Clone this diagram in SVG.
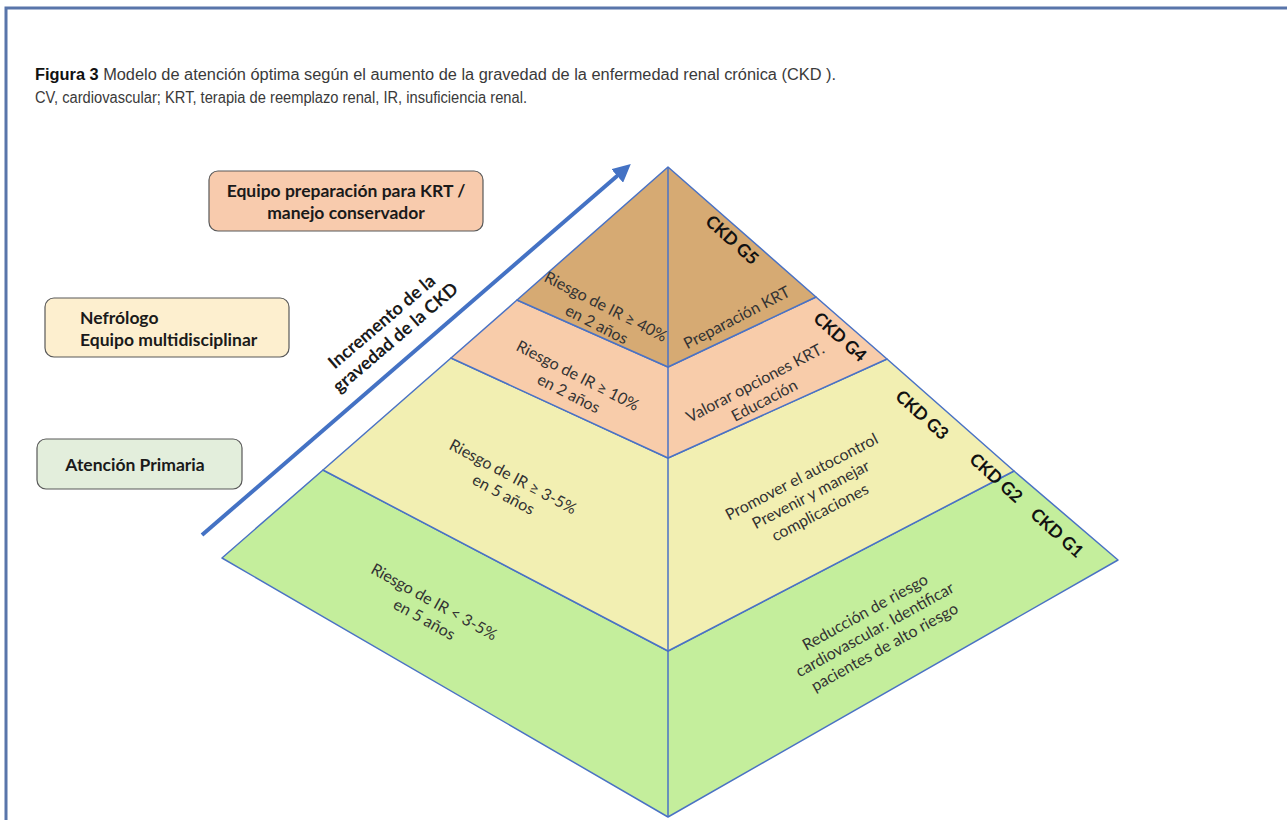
<svg xmlns="http://www.w3.org/2000/svg" width="1287" height="820" viewBox="0 0 1287 820">
<defs>
<style>
.title{font-family:"Liberation Sans",Arial,sans-serif;font-size:16px;fill:#3a3a3a}
.box{stroke:#595959;stroke-width:1.2}
.btxt{font-family:Lato,"Open Sans",sans-serif;font-weight:bold;font-size:17.5px;fill:#1a1a1a}
.lvl{stroke:#4a72c4;stroke-width:1.5;stroke-linejoin:round}
.in{font-family:Lato,"Open Sans",sans-serif;font-size:16px;fill:#333;text-anchor:middle}
.ckd{font-family:Lato,"Open Sans",sans-serif;font-weight:bold;font-size:17.5px;fill:#111;text-anchor:middle}
.arr{font-family:Lato,"Open Sans",sans-serif;font-weight:bold;font-size:18px;fill:#1a1a1a;text-anchor:middle}
</style>
<marker id="ah" viewBox="0 0 10 10" refX="5" refY="5" markerWidth="4.5" markerHeight="4.5" orient="auto" markerUnits="strokeWidth">
<path d="M0,0 L10,5 L0,10 z" fill="#4472c4"/>
</marker>
</defs>
<rect width="1287" height="820" fill="#fff"/>
<path d="M6,820 L6,8 L1287,8" fill="none" stroke="#5975aa" stroke-width="3"/>

<g id="title">
<text class="title" x="35" y="80" textLength="801" lengthAdjust="spacingAndGlyphs"><tspan font-weight="bold" fill="#111">Figura 3</tspan> Modelo de atención óptima según el aumento de la gravedad de la enfermedad renal crónica (CKD ).</text>
<text class="title" x="35" y="103" textLength="492" lengthAdjust="spacingAndGlyphs">CV, cardiovascular; KRT, terapia de reemplazo renal, IR, insuficiencia renal.</text>
</g>

<g id="box-krt">
<rect class="box" x="209" y="171" width="274" height="60" rx="9" fill="#f8cbad"/>
<text class="btxt" x="346" y="197" text-anchor="middle">Equipo preparación para KRT /</text>
<text class="btxt" x="346" y="219" text-anchor="middle">manejo conservador</text>
</g>
<g id="box-nefro">
<rect class="box" x="45" y="298" width="244" height="59" rx="9" fill="#fdefcf"/>
<text class="btxt" x="80" y="324">Nefrólogo</text>
<text class="btxt" x="80" y="346">Equipo multidisciplinar</text>
</g>
<g id="box-ap">
<rect class="box" x="37" y="439" width="205" height="50" rx="9" fill="#e3eedc"/>
<text class="btxt" x="135" y="471" text-anchor="middle">Atención Primaria</text>
</g>

<g id="level-g1">
<polygon class="lvl" points="323,470 222,558 668,817 1118,560 1014,471 668,651" fill="#c4ee9c"/>
</g>
<g id="level-g3g2">
<polygon class="lvl" points="451,358 323,470 668,651 1014,471 887,359 668,458" fill="#f2efb2"/>
</g>
<g id="level-g4">
<polygon class="lvl" points="517,300 451,358 668,458 887,359 816,297 668,367" fill="#f8ccaa"/>
</g>
<g id="level-g5">
<polygon class="lvl" points="668,167 517,300 668,367 816,297" fill="#d6aa73"/>
</g>

<g id="connectors">
<line class="lvl" x1="668" y1="167" x2="668" y2="817" fill="none"/>
<line x1="202" y1="535" x2="624" y2="170" stroke="#4472c4" stroke-width="4" marker-end="url(#ah)"/>
</g>

<g id="arrow-label">
<g transform="translate(389,330) rotate(-40.5)">
<text class="arr" x="0" y="-5">Incremento de la</text>
<text class="arr" x="0" y="16">gravedad de la CKD</text>
</g>
</g>

<g id="left-texts">
<g transform="translate(601,316) rotate(27)">
<text class="in" x="0" y="-5">Riesgo de IR ≥ 40%</text>
<text class="in" x="0" y="15">en 2 años</text>
</g>
<g transform="translate(573,385) rotate(27)">
<text class="in" x="0" y="-5">Riesgo de IR ≥ 10%</text>
<text class="in" x="0" y="15">en 2 años</text>
</g>
<g transform="translate(508,486) rotate(28)">
<text class="in" x="0" y="-5">Riesgo de IR ≥ 3-5%</text>
<text class="in" x="0" y="15">en 5 años</text>
</g>
<g transform="translate(429,611) rotate(29)">
<text class="in" x="0" y="-5">Riesgo de IR &lt; 3-5%</text>
<text class="in" x="0" y="15">en 5 años</text>
</g>
</g>

<g id="right-texts">
<g transform="translate(737,318) rotate(-27.5)">
<text class="in" x="0" y="5">Preparación KRT</text>
</g>
<g transform="translate(760,392) rotate(-27.5)">
<text class="in" x="0" y="-5">Valorar opciones KRT.</text>
<text class="in" x="0" y="15">Educación</text>
</g>
<g transform="translate(811,495) rotate(-27.5)">
<text class="in" x="0" y="-15">Promover el autocontrol</text>
<text class="in" x="0" y="5">Prevenir y manejar</text>
<text class="in" x="0" y="25">complicaciones</text>
</g>
<g transform="translate(875,630) rotate(-29)">
<text class="in" x="0" y="-15">Reducción de riesgo</text>
<text class="in" x="0" y="5">cardiovascular. Identificar</text>
<text class="in" x="0" y="25">pacientes de alto riesgo</text>
</g>
</g>

<g id="ckd-labels">
<text class="ckd" transform="translate(732,240) rotate(42)" y="6">CKD G5</text>
<text class="ckd" transform="translate(840,337) rotate(42)" y="6">CKD G4</text>
<text class="ckd" transform="translate(922,415) rotate(42)" y="6">CKD G3</text>
<text class="ckd" transform="translate(996,478) rotate(42)" y="6">CKD G2</text>
<text class="ckd" transform="translate(1057,533) rotate(42)" y="6">CKD G1</text>
</g>
</svg>
